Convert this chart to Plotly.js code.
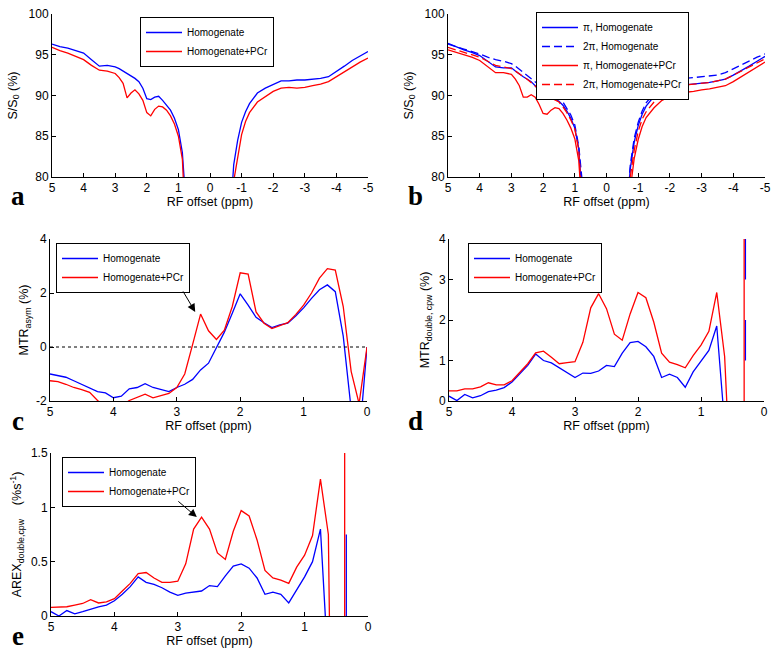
<!DOCTYPE html>
<html><head><meta charset="utf-8">
<script src="https://cdn.plot.ly/plotly-3.0.1.min.js"></script>
<style>html,body{margin:0;padding:0;background:#fff}#chart{width:772px;height:654px}</style>
</head><body><div id="chart"></div>
<script>
// ---------- DATA ----------
// Panels a & b: Z-spectra, RF offset (ppm)
const zX = [5,4.75,4.5,4.25,4,3.75,3.5,3.25,3,2.875,2.75,2.625,2.5,2.375,2.25,2.125,2,1.875,1.75,1.625,1.5,1.375,1.25,1.125,1,0.875,0.75,0.625,0.5,0.25,0,-0.25,-0.5,-0.625,-0.75,-0.875,-1,-1.125,-1.25,-1.5,-1.75,-2,-2.25,-2.5,-2.75,-3,-3.25,-3.5,-3.75,-4,-4.25,-4.5,-4.75,-5];
const aHomog = [96.3,96.0,95.8,95.5,95.2,94.4,93.6,93.7,93.5,93.3,93.0,92.8,92.5,92.1,91.7,90.9,89.6,89.5,89.8,89.9,89.4,88.8,88.2,87.2,85.8,83.0,78.5,72,62,35,10,35,62,74,81.5,84.5,86.7,88.0,89.0,90.3,90.9,91.4,91.8,91.8,91.9,91.9,92.0,92.1,92.3,92.9,93.6,94.3,94.9,95.4];
const aPCr   = [95.9,95.5,95.2,94.8,94.4,93.7,93.1,93.0,92.7,92.2,91.5,89.7,90.3,90.7,90.2,89.4,87.9,87.5,88.3,88.7,88.6,88.2,87.5,86.5,85.0,82.2,77,70,60,33,9,33,60,72,79.5,82.5,85.2,86.8,87.9,89.2,89.9,90.5,90.9,91.0,90.9,91.0,91.2,91.4,91.7,92.3,93.0,93.6,94.1,94.6];
const bPiHomog   = [96.3,96.0,95.6,95.3,94.9,94.2,93.5,93.4,93.4,93.0,92.6,92.3,92.0,91.7,91.2,90.6,90.0,89.8,89.8,89.6,89.3,88.8,88.1,87.2,86.0,83.5,78.5,72,62,35,10,35,62,75,81,84.3,86.3,87.7,88.7,89.9,90.7,91.1,91.2,91.3,91.4,91.5,91.6,91.8,92.0,92.5,93.0,93.6,94.2,94.8];
const b2PiHomog  = [96.4,96.0,95.7,95.4,95.1,94.7,94.4,94.2,93.9,93.6,93.2,92.8,92.5,92.1,91.6,91.3,91.0,90.7,90.5,90.2,89.8,89.2,88.4,87.6,86.4,83.8,78.8,72,62,35,10,35,62,75.5,81.5,84.8,86.7,88.1,89.1,90.3,91.2,91.7,92.0,92.1,92.2,92.3,92.4,92.5,92.8,93.3,93.8,94.3,94.7,95.1];
const bPiPCr     = [95.6,95.3,95.0,94.7,94.3,93.5,92.8,92.8,92.6,92.0,91.2,89.8,89.8,90.1,89.8,88.9,87.8,87.7,88.2,88.5,88.4,87.8,87.0,86.0,84.7,82.0,77,70,60,33,9,33,60,72,78.5,82.3,84.6,86.2,87.3,88.5,89.4,89.9,90.2,90.4,90.5,90.7,90.8,91.0,91.2,91.7,92.3,92.9,93.5,94.1];
const b2PiPCr    = [95.9,95.6,95.3,95.0,94.7,94.2,93.7,93.5,93.3,93.0,92.6,92.3,92.0,91.6,91.2,90.7,90.3,89.9,89.7,89.5,89.2,88.6,87.9,87.0,85.9,83.3,78.5,71,61,34,9.5,34,61,73.5,80.0,83.3,85.6,87.1,88.0,89.2,90.2,90.8,91.1,91.3,91.4,91.5,91.6,91.8,92.0,92.5,93.0,93.6,94.0,94.5];

// Panel c: MTRasym (%)
const cX = [5,4.875,4.75,4.625,4.5,4.375,4.25,4.125,4,3.875,3.75,3.625,3.5,3.375,3.25,3.125,3,2.875,2.75,2.625,2.5,2.375,2.25,2.125,2,1.875,1.75,1.625,1.5,1.375,1.25,1.125,1,0.875,0.75,0.625,0.5,0.375,0.25,0.125,0];
const cHomog = [-1.0,-1.05,-1.12,-1.25,-1.38,-1.5,-1.65,-1.7,-1.88,-1.82,-1.55,-1.5,-1.36,-1.5,-1.58,-1.65,-1.5,-1.38,-1.2,-0.85,-0.6,0.0,0.55,1.25,1.97,1.55,1.1,0.9,0.72,0.82,0.88,1.15,1.45,1.8,2.12,2.3,2.05,0.4,-2.3,-3.5,0];
const cPCr   = [-1.25,-1.28,-1.38,-1.5,-1.58,-1.68,-1.98,-2.2,-2.3,-2.2,-1.98,-1.85,-1.75,-1.88,-1.8,-1.72,-1.5,-1.0,0.1,1.22,0.6,0.28,0.62,1.5,2.75,2.7,1.3,0.88,0.68,0.78,0.9,1.2,1.55,2.0,2.55,2.9,2.85,1.5,-0.9,-2.1,0];

// Panels d & e (spike arrays: artefact near 0.3 ppm, drawn after a gap)
const dX = [5,4.875,4.75,4.625,4.5,4.375,4.25,4.125,4,3.875,3.75,3.625,3.5,3.375,3.25,3.125,3,2.875,2.75,2.625,2.5,2.375,2.25,2.125,2,1.875,1.75,1.625,1.5,1.375,1.25,1.125,1,0.875,0.75,0.625,0.5];
const dHomog = [0.12,0.01,0.16,0.08,0.13,0.23,0.27,0.33,0.47,0.68,0.88,1.16,1.0,0.94,0.82,0.7,0.58,0.69,0.68,0.74,0.88,0.85,1.18,1.44,1.47,1.34,1.1,0.58,0.66,0.58,0.34,0.72,0.98,1.25,1.85,-0.35,-3];
const dPCr   = [0.25,0.25,0.3,0.3,0.35,0.45,0.4,0.4,0.5,0.7,0.92,1.19,1.23,1.08,0.92,0.95,0.97,1.45,2.3,2.65,2.28,1.65,1.5,2.15,2.68,2.55,1.95,1.18,0.96,0.9,0.82,1.12,1.38,1.72,2.68,1.1,-3];
const dSpikeHomogX = [0.295,0.295,0.295,0.295,0.295];
const dSpikeHomogY = [1,2,null,3,4];
const dSpikePCrX = [0.315,0.315];
const dSpikePCrY = [-10,10];

const eHomog = [0.04,0.0,0.05,0.02,0.04,0.065,0.085,0.1,0.14,0.2,0.27,0.36,0.31,0.29,0.26,0.22,0.19,0.21,0.22,0.23,0.28,0.27,0.37,0.46,0.48,0.44,0.35,0.2,0.22,0.2,0.12,0.24,0.36,0.5,0.8,-0.5,-2];
const ePCr   = [0.08,0.08,0.085,0.1,0.115,0.15,0.12,0.13,0.16,0.23,0.3,0.39,0.4,0.35,0.31,0.31,0.32,0.48,0.8,0.91,0.8,0.58,0.52,0.78,0.97,0.92,0.7,0.42,0.35,0.33,0.3,0.45,0.56,0.74,1.26,0.75,-5];
const eSpikeHomogX = [0.342,0.342];
const eSpikeHomogY = [-1,0.75];
const eSpikePCrX = [0.368,0.368];
const eSpikePCrY = [-1,5];

// Tick labels
const zTickVals = [5,4,3,2,1,0,-1,-2,-3,-4,-5];
const zTickText = ['5','4','3','2','1','0','-1','-2','-3','-4','-5'];
const cdeTickVals = [5,4,3,2,1,0];
const cdeTickText = ['5','4','3','2','1','0'];
const zYTicks = [80,85,90,95,100];
const zYText = ['80','85','90','95','100'];
const cYTicks = [-2,0,2,4];
const cYText = ['-2','0','2','4'];
const dYTicks = [0,1,2,3,4];
const dYText = ['0','1','2','3','4'];
const eYTicks = [0,0.5,1,1.5];
const eYText = ['0','0.5','1','1.5'];

const nameH = 'Homogenate', nameP = 'Homogenate+PCr';

// ---------- LAYOUT HELPERS ----------
const W = 772, H = 654;
const FONT = '"Liberation Sans", Arial, sans-serif';
const BLUE = 'rgb(0,0,255)', RED = 'rgb(255,0,0)';
const LW = 1.3;
const dom = (l, r) => [l / W, r / W];
const domY = (t, b) => [1 - b / H, 1 - t / H];

function tr(x, y, color, dash, name, n, legend) {
  return {x, y, type: 'scatter', mode: 'lines', name, showlegend: true,
    xaxis: 'x' + (n === 1 ? '' : n), yaxis: 'y' + (n === 1 ? '' : n),
    legend, line: {color, width: LW, dash: dash || 'solid'}, hoverinfo: 'skip'};
}
function cat(a, b) { return a.concat([null], b); }

function xax(domain, range, vals, text, anchor, standoff) {
  return {domain, range, anchor, tickmode: 'array', tickvals: vals, ticktext: text,
    ticks: 'inside', ticklen: 4, tickwidth: 1, tickcolor: '#000', showline: true,
    linecolor: '#000', linewidth: 1, showgrid: false, zeroline: false, mirror: false,
    tickfont: {family: FONT, size: 12, color: '#000'}, automargin: false,
    title: {text: 'RF offset (ppm)', font: {family: FONT, size: 12.5, color: '#000'}, standoff}};
}
function yax(domain, range, vals, text, anchor, title, standoff) {
  return {domain, range, anchor, tickmode: 'array', tickvals: vals, ticktext: text,
    ticks: 'inside', ticklen: 4, tickwidth: 1, tickcolor: '#000', showline: true,
    linecolor: '#000', linewidth: 1, showgrid: false, zeroline: false, mirror: false,
    tickfont: {family: FONT, size: 12, color: '#000'}, automargin: false,
    title: {text: title, font: {family: FONT, size: 12.5, color: '#000'}, standoff}};
}
function leg(left, top) {
  return {x: left / W, y: 1 - top / H, xanchor: 'left', yanchor: 'top', xref: 'paper', yref: 'paper',
    bgcolor: '#fff', bordercolor: '#000', borderwidth: 1, itemwidth: 36,
    font: {family: FONT, size: 10, color: '#000'}, tracegroupgap: 0};
}

const DASH = '8px,4px';
const data = [
  tr(zX, aHomog, BLUE, null, nameH, 1, 'legend'),
  tr(zX, aPCr, RED, null, nameP, 1, 'legend'),
  tr(zX, bPiHomog, BLUE, null, '\u03c0, Homogenate', 2, 'legend2'),
  tr(zX, b2PiHomog, BLUE, DASH, '2\u03c0, Homogenate', 2, 'legend2'),
  tr(zX, bPiPCr, RED, null, '\u03c0, Homogenate+PCr', 2, 'legend2'),
  tr(zX, b2PiPCr, RED, DASH, '2\u03c0, Homogenate+PCr', 2, 'legend2'),
  tr(cX, cHomog, BLUE, null, nameH, 3, 'legend3'),
  tr(cX, cPCr, RED, null, nameP, 3, 'legend3'),
  tr(cat(dX, dSpikeHomogX), cat(dHomog, dSpikeHomogY), BLUE, null, nameH, 4, 'legend4'),
  tr(cat(dX, dSpikePCrX), cat(dPCr, dSpikePCrY), RED, null, nameP, 4, 'legend4'),
  tr(cat(dX, eSpikeHomogX), cat(eHomog, eSpikeHomogY), BLUE, null, nameH, 5, 'legend5'),
  tr(cat(dX, eSpikePCrX), cat(ePCr, eSpikePCrY), RED, null, nameP, 5, 'legend5')
];

const panelLabel = (t, x, y) => ({text: t, xref: 'paper', yref: 'paper', x: x / W, y: 1 - y / H,
  xanchor: 'center', yanchor: 'middle', showarrow: false,
  font: {family: '"Liberation Serif", "Times New Roman", serif', size: 27, color: '#000', weight: 'bold'}});

const layout = {
  width: W, height: H, margin: {l: 0, r: 0, t: 0, b: 0},
  paper_bgcolor: '#fff', plot_bgcolor: '#fff',
  font: {family: FONT, color: '#000'},
  xaxis:  xax(dom(52, 368), [5, -5], zTickVals, zTickText, 'y', 2),
  yaxis:  yax(domY(14, 177), [80, 100], zYTicks, zYText, 'x', 'S/S<sub>0</sub> (%)', 8),
  xaxis2: xax(dom(448, 765), [5, -5], zTickVals, zTickText, 'y2', 2),
  yaxis2: yax(domY(14, 177), [80, 100], zYTicks, zYText, 'x2', 'S/S<sub>0</sub> (%)', 8),
  xaxis3: xax(dom(50, 367), [5, 0], cdeTickVals, cdeTickText, 'y3', 2),
  yaxis3: yax(domY(239, 401), [-2, 4], cYTicks, cYText, 'x3', 'MTR<sub>asym</sub> (%)', 4),
  xaxis4: xax(dom(449, 764), [5, 0], cdeTickVals, cdeTickText, 'y4', 2),
  yaxis4: yax(domY(239, 401), [0, 4], dYTicks, dYText, 'x4', 'MTR<sub>double, cpw</sub> (%)', 6),
  xaxis5: xax(dom(51, 368), [5, 0], cdeTickVals, cdeTickText, 'y5', 2),
  yaxis5: yax(domY(453, 616), [0, 1.5], eYTicks, eYText, 'x5', 'AREX<sub>double,cpw</sub>\u00a0\u00a0\u00a0\u00a0(%s<sup>-1</sup>)', 6),
  legend: leg(140, 17),
  legend2: leg(536, 12),
  legend3: leg(56, 243),
  legend4: leg(468, 243),
  legend5: leg(62, 457),
  shapes: [
    {type: 'line', xref: 'x3 domain', yref: 'y3', x0: 0, x1: 1, y0: 0, y1: 0,
     line: {color: '#000', width: 1, dash: 'dot'}}
  ],
  annotations: [
    panelLabel('a', 18, 196), panelLabel('b', 415, 196), panelLabel('c', 18, 421),
    panelLabel('d', 415, 421), panelLabel('e', 18, 636),
    {xref: 'x3', yref: 'y3', x: 2.71, y: 1.3, ax: -13, ay: -22, showarrow: true,
     arrowhead: 2, arrowsize: 1.6, arrowwidth: 1, arrowcolor: '#000', text: ''},
    {xref: 'x5', yref: 'y5', x: 2.70, y: 0.91, ax: -20, ay: -17, showarrow: true,
     arrowhead: 2, arrowsize: 1.6, arrowwidth: 1, arrowcolor: '#000', text: ''}
  ]
};

Plotly.newPlot('chart', data, layout, {staticPlot: true, displayModeBar: false});
</script>
</body></html>
